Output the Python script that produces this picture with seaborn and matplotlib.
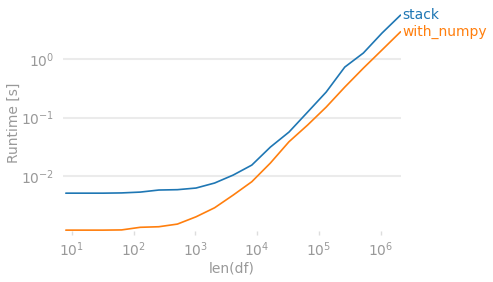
import numpy as np
import pandas as pd
import matplotlib
matplotlib.use("Agg")
import matplotlib.pyplot as plt
import seaborn as sns

n = [8, 16, 32, 64, 128, 256, 512, 1024, 2048, 4096, 8192, 16384, 32768,
     65536, 131072, 262144, 524288, 1048576, 2097152]
stack = [0.0051, 0.0051, 0.0051, 0.00515, 0.00532, 0.00577, 0.00585, 0.00624,
         0.0076, 0.0104, 0.0154, 0.0313, 0.0565, 0.124, 0.273, 0.73, 1.27,
         2.78, 5.65]
with_numpy = [0.00119, 0.00119, 0.00119, 0.0012, 0.00133, 0.00136, 0.00151,
              0.00201, 0.00287, 0.00473, 0.0080, 0.0167, 0.0386, 0.0745,
              0.151, 0.332, 0.70, 1.43, 2.93]
labels = ["stack", "with_numpy"]
colors = ["#1f77b4", "#ff7f0e"]

df = pd.DataFrame({
    "n": n * 2,
    "t": stack + with_numpy,
    "kernel": [labels[0]] * len(n) + [labels[1]] * len(n),
})

sns.set_style("white")
plt.rcParams["font.family"] = ["DejaVu Sans"]
gray = "#999999"

fig = plt.figure(figsize=(4.93, 2.82), dpi=100)
ax = fig.add_axes([63 / 493, 1 - 231 / 282, (400.6 - 63) / 493, (231 - 14) / 282])
sns.lineplot(data=df, x="n", y="t", hue="kernel", palette=colors, ax=ax,
             legend=False, linewidth=1.2)
ax.set_xscale("log")
ax.set_yscale("log")
ax.set_xlim(7.2, 2.1e6)
ax.set_ylim(0.00115, 5.9)
for s in ax.spines.values():
    s.set_visible(False)
ax.grid(axis="y", color="#ebebeb", linewidth=1.5)
ax.grid(axis="x", visible=False)
ax.tick_params(axis="both", which="major", colors="#dddddd", labelcolor=gray,
               labelsize=10, length=3, width=1, bottom=True, left=False)
ax.tick_params(axis="both", which="minor", bottom=False, left=False)
ax.set_xlabel("len(df)", color=gray, fontsize=10, labelpad=2)
ax.set_ylabel("Runtime [s]", color=gray, fontsize=10, labelpad=0)
ax.set_xticks([1e1, 1e2, 1e3, 1e4, 1e5, 1e6])
ax.set_yticks([1e-2, 1e-1, 1e0])

for lab, vals, c in zip(labels, [stack, with_numpy], colors):
    ax.annotate(lab, xy=(n[-1], vals[-1]), xytext=(1.5, 0),
                textcoords="offset points", color=c, fontsize=10,
                va="center", ha="left", annotation_clip=False)

fig.savefig("out.png", dpi=100)
